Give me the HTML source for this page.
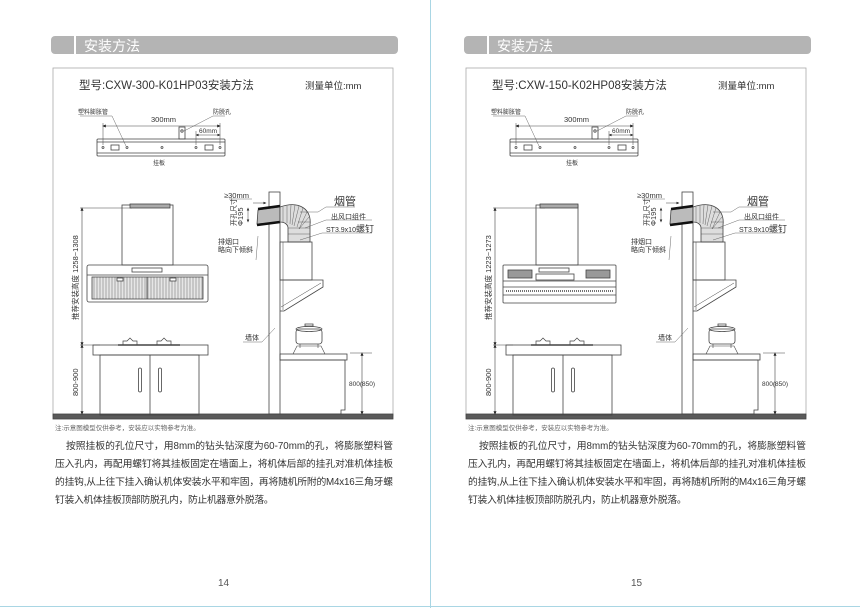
<!DOCTYPE html>
<html><head><meta charset="utf-8"><style>
html,body{margin:0;padding:0;background:#fff;}
svg{display:block;}
text{font-family:"Liberation Sans","Noto Sans CJK SC",sans-serif;fill:#333;}
</style></head><body>
<svg width="860" height="608" viewBox="0 0 860 608" xmlns="http://www.w3.org/2000/svg">
<defs>
<marker id="a" markerWidth="6" markerHeight="6" refX="3" refY="3" orient="auto-start-reverse"><path d="M0,0.5 L6,3 L0,5.5z" fill="#222"/></marker>
<g id="shapes" stroke="#444" fill="none" stroke-width="0.8">
  <rect x="51" y="36" width="347" height="18" rx="4" fill="#b4b4b4" stroke="none"/>
  <rect x="74" y="36" width="2" height="18" fill="#fff" stroke="none"/>
  <rect x="53" y="68" width="340" height="348" stroke="#aaa"/>
  <rect x="97" y="139" width="128" height="17" rx="1"/>
  <line x1="97" y1="142" x2="225" y2="142"/><line x1="97" y1="153" x2="225" y2="153"/>
  <circle cx="103" cy="147.5" r="1"/><circle cx="127" cy="147.5" r="1"/><circle cx="162" cy="147.5" r="1"/><circle cx="196" cy="147.5" r="1"/><circle cx="220" cy="147.5" r="1"/>
  <rect x="111" y="145" width="8" height="5"/><rect x="205" y="145" width="8" height="5"/>
  <rect x="179" y="127" width="6" height="12"/><circle cx="182" cy="131" r="1.2"/>
  <line x1="104" y1="126" x2="219" y2="126" marker-start="url(#a)" marker-end="url(#a)" stroke-width="0.6"/>
  <line x1="103" y1="123" x2="103" y2="145" stroke-width="0.5"/><line x1="220" y1="123" x2="220" y2="145" stroke-width="0.5"/>
  <line x1="197" y1="135" x2="219" y2="135" marker-start="url(#a)" marker-end="url(#a)" stroke-width="0.5"/>
  <line x1="196" y1="131" x2="196" y2="145" stroke-width="0.5"/>
  <line x1="80" y1="116" x2="112" y2="116" stroke-width="0.4"/><line x1="112" y1="116" x2="126" y2="146" stroke-width="0.4"/>
  <line x1="213" y1="116" x2="225" y2="116" stroke-width="0.4"/><line x1="213" y1="116" x2="184" y2="131" stroke-width="0.4"/>
  <rect x="53" y="414" width="340" height="5" fill="#5a5a5a" stroke="#444"/>
  <line x1="80" y1="208" x2="132" y2="208" stroke-width="0.6"/>
  <line x1="80" y1="345" x2="100" y2="345" stroke-width="0.6"/>
  <line x1="82" y1="209" x2="82" y2="344" marker-start="url(#a)" marker-end="url(#a)" stroke-width="0.6"/>
  <line x1="82" y1="346" x2="82" y2="413" marker-start="url(#a)" marker-end="url(#a)" stroke-width="0.6"/>
  <rect x="93" y="345" width="115" height="10"/>
  <rect x="100" y="355" width="99" height="60"/>
  <line x1="150" y1="355" x2="150" y2="415"/>
  <rect x="138.5" y="368" width="3" height="24" rx="1.5"/><rect x="158.5" y="368" width="3" height="24" rx="1.5"/>
  <path d="M123,345 v-4 h4 l3,-3 l3,3 h4 v4 M157,345 v-4 h4 l3,-3 l3,3 h4 v4" stroke-width="0.7"/>
  <line x1="118" y1="345" x2="180" y2="345" stroke-width="1.4"/>
  <rect x="269" y="192" width="11" height="222"/>
  <path d="M258,210 L280,207 L280,222 L257,224 Z" fill="#bbb"/>
  <path d="M258,209 L280,206" stroke="#111" stroke-width="2.5"/>
  <path d="M257,225 L280,222" stroke="#111" stroke-width="2.5"/>
  <path d="M280,207 C300,200 312,210 310,225 L310,242 L288,242 L288,228 C288,224 284,222 280,222 Z" fill="#ddd"/>
  <path d="M283,207 l0,15 M287,206 l0,17 M291,205 l-1,19 M295,205 l-3,20 M299,206 l-5,20 M303,208 l-6,19 M307,212 l-8,17 M309,217 l-10,12 M310,222 h-12 M310,228 h-22 M310,234 h-22" stroke-width="0.4"/>
  <rect x="280" y="242" width="32" height="38"/>
  <line x1="283" y1="242" x2="283" y2="310" stroke-width="0.5"/>
  <path d="M280,280 H323 V287 L284,311 H280"/>
  <path d="M281,307 L321,283" stroke-width="0.5"/>
  <rect x="280" y="354" width="67" height="6"/>
  <path d="M280,360 H345 V410 H341 V414 H280"/>
  <rect x="296" y="329" width="26" height="15" rx="3"/>
  <ellipse cx="309" cy="329" rx="13" ry="2.5"/>
  <path d="M305,326 h8 v-2 h-8z"/>
  <path d="M293,354 l4,-8 h24 l4,8 M300,344 v4 M318,344 v4" stroke-width="0.6"/>
  <line x1="350" y1="353" x2="372" y2="353" stroke-width="0.5"/>
  <line x1="362" y1="354" x2="362" y2="413" marker-start="url(#a)" marker-end="url(#a)" stroke-width="0.6"/>
  <path d="M300,212 H318 M318,212 L326,207 H355" stroke-width="0.4"/>
  <path d="M305,228 L326,220 H372" stroke-width="0.4"/>
  <path d="M300,240 L322,233 H372" stroke-width="0.4"/>
  <path d="M258,236 L256,260" stroke-width="0.4"/>
  <path d="M243,342 H262 L275,328" stroke-width="0.4"/>
  <line x1="229" y1="199" x2="252" y2="199" stroke-width="0.4"/>
  <line x1="253" y1="203" x2="265" y2="203" marker-end="url(#a)" stroke-width="0.5"/>
  <line x1="248" y1="209" x2="248" y2="221" marker-start="url(#a)" marker-end="url(#a)" stroke-width="0.5"/>
</g>
</defs>

<line x1="430.5" y1="0" x2="430.5" y2="608" stroke="#a9d6e4" stroke-width="1"/>
<line x1="0" y1="606.5" x2="860" y2="606.5" stroke="#a9d6e4" stroke-width="1"/>

<use href="#shapes"/>
<use href="#shapes" transform="translate(413,0)"/>

<g stroke="#444" fill="none" stroke-width="0.8">
  <rect x="122" y="205" width="51" height="60"/>
  <rect x="130" y="204" width="40" height="4" fill="#aaa"/>
  <rect x="87" y="265" width="121" height="37" rx="2"/>
  <line x1="87" y1="275" x2="208" y2="275"/>
  <rect x="132" y="268" width="30" height="4"/>
  <rect x="92" y="277" width="111" height="22" fill="#e6e6e6"/>
  <path d="M94,277 v22 M97,277 v22 M100,277 v22 M103,277 v22 M106,277 v22 M109,277 v22 M112,277 v22 M115,277 v22 M118,277 v22 M121,277 v22 M124,277 v22 M127,277 v22 M130,277 v22 M133,277 v22 M136,277 v22 M139,277 v22 M142,277 v22 M145,277 v22 M148,277 v22 M151,277 v22 M154,277 v22 M157,277 v22 M160,277 v22 M163,277 v22 M166,277 v22 M169,277 v22 M172,277 v22 M175,277 v22 M178,277 v22 M181,277 v22 M184,277 v22 M187,277 v22 M190,277 v22 M193,277 v22 M196,277 v22 M199,277 v22 M202,277 v22" stroke-width="0.4"/>
  <line x1="147" y1="277" x2="147" y2="299"/>
  <rect x="117" y="278" width="6" height="3" fill="#fff"/><rect x="170" y="278" width="6" height="3" fill="#fff"/>
</g>
<g stroke="#444" fill="none" stroke-width="0.8">
  <rect x="536" y="205" width="42" height="60"/>
  <rect x="540" y="204" width="38" height="4" fill="#aaa"/>
  <rect x="503" y="265" width="113" height="38" rx="1"/>
  <rect x="508" y="270" width="24" height="8" fill="#999"/><rect x="586" y="270" width="24" height="8" fill="#999"/>
  <rect x="539" y="268" width="30" height="4"/>
  <rect x="536" y="274" width="38" height="6"/>
  <line x1="503" y1="281" x2="616" y2="281"/>
  <line x1="503" y1="287" x2="616" y2="287"/>
  <line x1="506" y1="291" x2="613" y2="291" stroke-dasharray="1 1" stroke-width="1.6"/>
  <line x1="503" y1="295" x2="616" y2="295"/>
</g>

<text x="84" y="51" font-size="14" style="fill:#fff">安装方法</text>
<text x="79" y="89" font-size="11.5">型号:CXW-300-K01HP03安装方法</text>
<text x="305" y="89" font-size="9.5">测量单位:mm</text>
<text x="78" y="114" font-size="6">塑料膨胀管</text>
<text x="213" y="114" font-size="6">防脱孔</text>
<text x="151" y="122" font-size="7.5">300mm</text>
<text x="199" y="133" font-size="6.5">60mm</text>
<text x="153" y="165" font-size="6">挂板</text>
<text transform="translate(78,320) rotate(-90)" font-size="7.5">推荐安装高度 1258~1308</text>
<text transform="translate(78,396) rotate(-90)" font-size="7.5">800-900</text>
<text x="224" y="198" font-size="7.5">≥30mm</text>
<text transform="translate(236,226) rotate(-90)" font-size="7">开孔尺寸</text>
<text transform="translate(243,226) rotate(-90)" font-size="7.5">Φ195</text>
<text x="334" y="205" font-size="11">烟管</text>
<text x="331" y="219" font-size="7">出风口组件</text>
<text x="326" y="232" font-size="7">ST3.9x10<tspan font-size="9">螺钉</tspan></text>
<text x="218" y="244" font-size="7">排烟口</text>
<text x="218" y="252" font-size="7">略向下倾斜</text>
<text x="245" y="340" font-size="7">墙体</text>
<text x="349" y="386" font-size="6.5">800(850)</text>
<text x="55" y="430" font-size="6.5" style="fill:#666">注:示意图模型仅供参考，安装应以实物参考为准。</text>
<g font-size="9.8">
<text x="66" y="449" textLength="327" lengthAdjust="spacing">按照挂板的孔位尺寸，用8mm的钻头钻深度为60-70mm的孔，将膨胀塑料管</text>
<text x="55" y="467" textLength="338" lengthAdjust="spacing">压入孔内，再配用螺钉将其挂板固定在墙面上，将机体后部的挂孔对准机体挂板</text>
<text x="55" y="485" textLength="338" lengthAdjust="spacing">的挂钩,从上往下挂入确认机体安装水平和牢固，再将随机所附的M4x16三角牙螺</text>
<text x="55" y="503" letter-spacing="-0.3">钉装入机体挂板顶部防脱孔内，防止机器意外脱落。</text>
</g>
<text x="218" y="586" font-size="10" style="fill:#555">14</text>

<text x="497" y="51" font-size="14" style="fill:#fff">安装方法</text>
<text x="492" y="89" font-size="11.5">型号:CXW-150-K02HP08安装方法</text>
<text x="718" y="89" font-size="9.5">测量单位:mm</text>
<text x="491" y="114" font-size="6">塑料膨胀管</text>
<text x="626" y="114" font-size="6">防脱孔</text>
<text x="564" y="122" font-size="7.5">300mm</text>
<text x="612" y="133" font-size="6.5">60mm</text>
<text x="566" y="165" font-size="6">挂板</text>
<text transform="translate(491,320) rotate(-90)" font-size="7.5">推荐安装高度 1223~1273</text>
<text transform="translate(491,396) rotate(-90)" font-size="7.5">800-900</text>
<text x="637" y="198" font-size="7.5">≥30mm</text>
<text transform="translate(649,226) rotate(-90)" font-size="7">开孔尺寸</text>
<text transform="translate(656,226) rotate(-90)" font-size="7.5">Φ195</text>
<text x="747" y="205" font-size="11">烟管</text>
<text x="744" y="219" font-size="7">出风口组件</text>
<text x="739" y="232" font-size="7">ST3.9x10<tspan font-size="9">螺钉</tspan></text>
<text x="631" y="244" font-size="7">排烟口</text>
<text x="631" y="252" font-size="7">略向下倾斜</text>
<text x="658" y="340" font-size="7">墙体</text>
<text x="762" y="386" font-size="6.5">800(850)</text>
<text x="468" y="430" font-size="6.5" style="fill:#666">注:示意图模型仅供参考，安装应以实物参考为准。</text>
<g font-size="9.8">
<text x="479" y="449" textLength="327" lengthAdjust="spacing">按照挂板的孔位尺寸，用8mm的钻头钻深度为60-70mm的孔，将膨胀塑料管</text>
<text x="468" y="467" textLength="338" lengthAdjust="spacing">压入孔内，再配用螺钉将其挂板固定在墙面上，将机体后部的挂孔对准机体挂板</text>
<text x="468" y="485" textLength="338" lengthAdjust="spacing">的挂钩,从上往下挂入确认机体安装水平和牢固，再将随机所附的M4x16三角牙螺</text>
<text x="468" y="503" letter-spacing="-0.3">钉装入机体挂板顶部防脱孔内，防止机器意外脱落。</text>
</g>
<text x="631" y="586" font-size="10" style="fill:#555">15</text>
</svg>
</body></html>
